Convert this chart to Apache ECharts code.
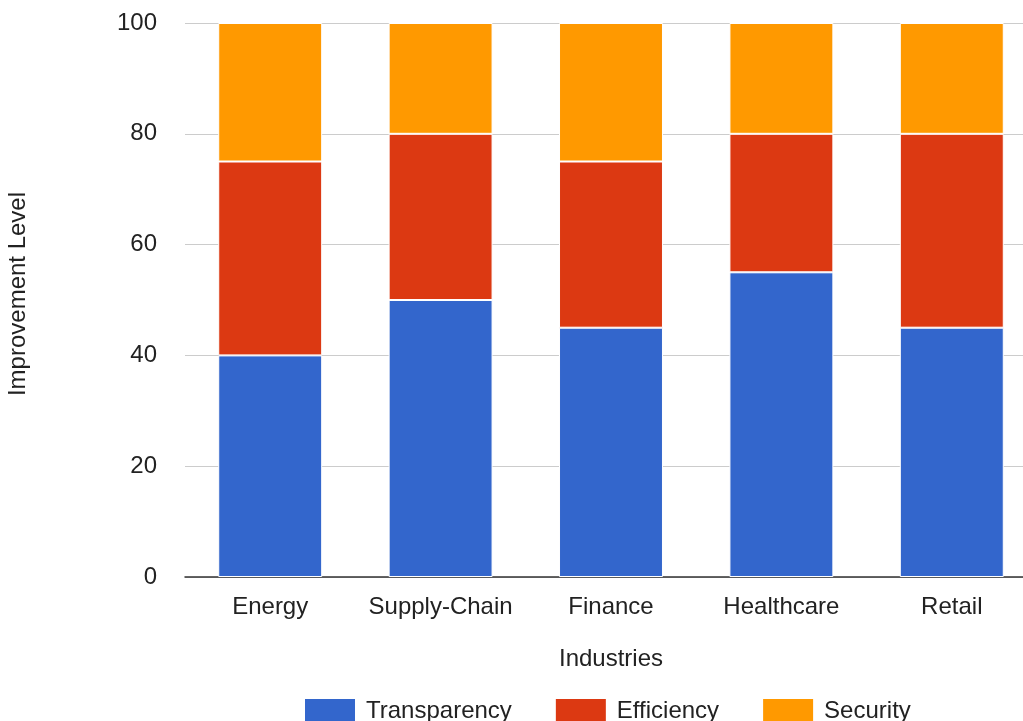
<!DOCTYPE html>
<html><head><meta charset="utf-8">
<script src="https://cdn.jsdelivr.net/npm/echarts@6/dist/echarts.min.js"></script>
<style>html,body{margin:0;padding:0;background:#fff;overflow:hidden}#c{width:1023px;height:721px}</style>
</head><body><div id="c"></div>
<script>
const categories = ['Energy', 'Supply-Chain', 'Finance', 'Healthcare', 'Retail'];
const transparency = [40, 50, 45, 55, 45];
const efficiency = [35, 30, 30, 25, 35];
const security = [25, 20, 25, 20, 20];
const seriesNames = ['Transparency', 'Efficiency', 'Security'];
const colors = ['#3366cc', '#dc3912', '#ff9900'];

const chart = echarts.init(document.getElementById('c'));
const font = 'Liberation Sans, Arial, sans-serif';
const fs = 24;
const mk = (name, data, color) => ({
  name, type: 'bar', stack: 'total', data, barWidth: '61%',
  itemStyle: { color, borderColor: '#fff', borderWidth: 1 },
  emphasis: { disabled: true }
});
chart.setOption({
  animation: false,
  textStyle: { fontFamily: font },
  color: colors,
  grid: { left: 185, width: 852, top: 23, height: 554, outerBoundsMode: 'none', containLabel: false },
  legend: {
    top: 697, left: 303, padding: 0, itemWidth: 52, itemHeight: 26, itemGap: 42,
    icon: 'rect',
    textStyle: { fontSize: fs, color: '#222', fontFamily: font, padding: [0, 0, 0, 5] },
    data: seriesNames
  },
  xAxis: {
    type: 'category', data: categories,
    name: 'Industries', nameLocation: 'middle', nameGap: 70,
    nameTextStyle: { fontSize: fs, color: '#222', fontFamily: font },
    axisLine: { lineStyle: { color: '#333', width: 1.5 } },
    axisTick: { show: false },
    axisLabel: { fontSize: fs, color: '#222', margin: 18, interval: 0, fontFamily: font }
  },
  yAxis: {
    type: 'value', min: 0, max: 100, interval: 20,
    name: 'Improvement Level', nameLocation: 'middle', nameGap: 155,
    nameTextStyle: { fontSize: fs, color: '#222', fontFamily: font, padding: [0, 0, 0, 12] },
    axisLine: { show: false }, axisTick: { show: false },
    axisLabel: { fontSize: fs, color: '#222', margin: 28, fontFamily: font },
    splitLine: { lineStyle: { color: '#ccc' } }
  },
  series: [
    mk(seriesNames[0], transparency, colors[0]),
    mk(seriesNames[1], efficiency, colors[1]),
    mk(seriesNames[2], security, colors[2])
  ]
});
</script></body></html>
